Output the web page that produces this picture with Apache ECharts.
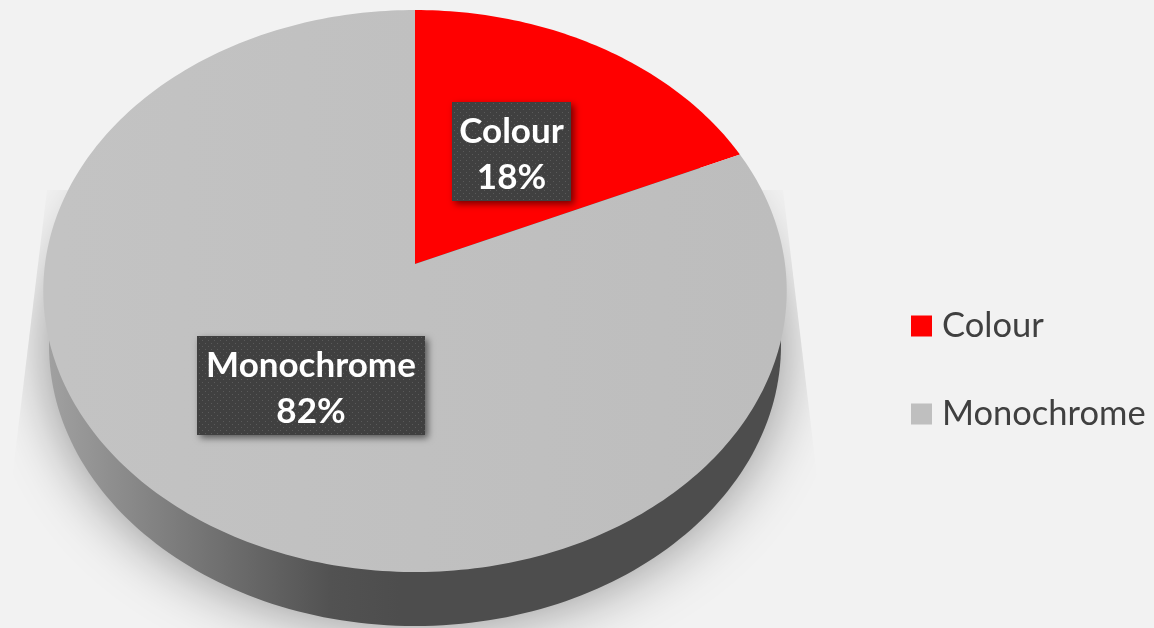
<!DOCTYPE html>
<html><head><meta charset="utf-8">
<style>html,body{margin:0;padding:0;background:#f2f2f2}#c{width:1154px;height:628px}</style>
<script src="https://cdn.jsdelivr.net/npm/echarts@6/dist/echarts.min.js"></script>
</head><body><div id="c"></div>
<script>
const categories = ['Colour', 'Monochrome'];
const seriesValues = [18.3, 81.7];
const sliceColours = ['#ff0000', '#bfbfbf'];

const FONT = 'Lato';
const APEX_X = 415, APEX_Y = 264, RIM_TOP = 10, RIM_BOTTOM = 572, RX = 370;
const labelCentres = [[511.5, 154.5], [311, 388.5]];
const boxCentres = [[511.5, 151.5], [311, 385.5]];
const labelSizes = [[119, 99], [228, 99]];

// perspective map of the tilted disc onto the screen
const persp = (function () {
  const c = (RIM_TOP + RIM_BOTTOM - 2 * APEX_Y) / (RIM_BOTTOM - RIM_TOP);
  const a = RIM_TOP * (1 + c) - APEX_Y;
  return { a, c };
})();
function rim(share) {
  const ang = share * 2 * Math.PI, u = Math.sin(ang), v = Math.cos(ang);
  const d = 1 + persp.c * v;
  return [APEX_X + RX * u / d, (persp.a * v + APEX_Y) / d];
}
const total = seriesValues.reduce((s, v) => s + v, 0);

function dotPattern() {
  const cv = document.createElement('canvas');
  cv.width = 6; cv.height = 6;
  const g = cv.getContext('2d');
  g.fillStyle = '#404040'; g.fillRect(0, 0, 6, 6);
  g.fillStyle = '#5a5a5a'; g.fillRect(1, 1, 1, 1); g.fillRect(4, 4, 1, 1);
  return { image: cv, repeat: 'repeat' };
}
const pattern = dotPattern();

function sliceRenderer(idx) {
  return function (params, api) {
    const start = seriesValues.slice(0, idx).reduce((s, v) => s + v, 0) / total;
    const share = api.value(0) / total;
    const pts = [[APEX_X, APEX_Y]];
    const n = Math.ceil(share * 360);
    for (let i = 0; i <= n; i++) pts.push(rim(start + share * i / n));
    const fill = idx === 1
      ? new echarts.graphic.LinearGradient(60, 300, 780, 300, [
          { offset: 0, color: '#c3c3c3' }, { offset: 1, color: '#bdbdbd' }], true)
      : sliceColours[idx];
    const [cx, cy] = labelCentres[idx], [bx, by] = boxCentres[idx], [w, h] = labelSizes[idx];
    return {
      type: 'group',
      children: [
        { type: 'polygon', z2: 1, shape: { points: pts }, style: { fill: fill } },
        { type: 'rect', z2: 5, shape: { x: bx - w / 2, y: by - h / 2, width: w, height: h },
          style: { fill: pattern, shadowBlur: 7, shadowColor: 'rgba(0,0,0,0.55)', shadowOffsetX: 3, shadowOffsetY: 3 } },
        { type: 'text', z2: 6, style: {
            x: cx, y: cy, align: 'center', verticalAlign: 'middle',
            text: categories[idx] + '\n' + Math.round(share * 100) + '%',
            fill: '#ffffff', font: 'bold 35px ' + FONT, lineHeight: 46 } }
      ]
    };
  };
}

function baseRenderer() {
  const sideFill = new echarts.graphic.LinearGradient(50, 0, 400, 0, [
    { offset: 0, color: '#a0a0a0' }, { offset: 0.45, color: '#737373' },
    { offset: 0.8, color: '#525252' }, { offset: 1, color: '#4d4d4d' }], true);
  return {
    type: 'group',
    children: [
      { type: 'ellipse', z2: 0, shape: { cx: 415, cy: 348, rx: 365, ry: 277 },
        style: { fill: '#bdbdbd', shadowBlur: 60, shadowColor: 'rgba(0,0,0,0.42)' },
        clipPath: { type: 'polygon', shape: { points: [[47, 190], [783, 190], [835, 628], [-6, 628]] } } },
      { type: 'ellipse', z2: 1, shape: { cx: 415, cy: 345, rx: 366, ry: 281 },
        style: { fill: sideFill } }
    ]
  };
}

const series = [{
  type: 'custom', name: '__base', coordinateSystem: 'none', silent: true, clip: false, z: 1,
  renderItem: baseRenderer, data: [[0]]
}].concat(categories.map((name, i) => ({
  type: 'custom', name: name, coordinateSystem: 'none', silent: true, clip: false, z: 2,
  itemStyle: { color: sliceColours[i] },
  renderItem: sliceRenderer(i), data: [[seriesValues[i]]]
})));

const chart = echarts.init(document.getElementById('c'), null, { renderer: 'canvas' });
chart.setOption({
  backgroundColor: '#f2f2f2',
  animation: false,
  legend: {
    data: categories, orient: 'vertical', left: 911, top: 306, padding: 0,
    itemWidth: 21, itemHeight: 21, itemGap: 48, icon: 'rect', selectedMode: false,
    textStyle: { fontFamily: FONT, fontSize: 34.5, color: '#404040', lineHeight: 40, padding: [0, 0, 0, 5] }
  },
  series: series
});
</script></body></html>
